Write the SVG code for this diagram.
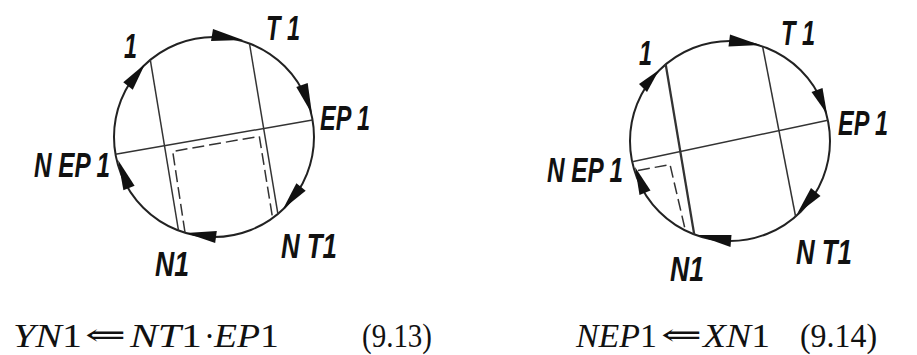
<svg xmlns="http://www.w3.org/2000/svg" width="917" height="355" viewBox="0 0 917 355">
<style>
.circ{fill:none;stroke:#222;stroke-width:2}
.ln{fill:none;stroke:#333;stroke-width:1.5}
.bold{stroke-width:2.3}
.dash{fill:none;stroke:#333;stroke-width:1.5;stroke-dasharray:12 5}
.arr{fill:#111;stroke:none}
.lbl{font-family:"Liberation Sans",Arial,sans-serif;font-style:italic;font-weight:bold;font-size:35px;fill:#111}
.eq{font-family:"Liberation Serif","Times New Roman",serif;font-size:33px;fill:#111}
.ar{font-family:"DejaVu Serif","Liberation Serif",serif;font-size:30px;fill:#111}
.it{font-style:italic}
</style>
<rect width="917" height="355" fill="#fff"/>

<g id="diagram-913">
  <circle id="circle-left" class="circ" cx="214" cy="137" r="100"/>
  <g id="connectors-left">
    <line class="ln" x1="150.3" y1="59.9" x2="178.5" y2="230.5"/>
    <line class="ln" x1="249.5" y1="43.5" x2="277.9" y2="213.9"/>
    <line class="ln" x1="312.5" y1="120" x2="115.5" y2="154.2"/>
    <polyline class="dash" points="185,232.5 172.7,151.4 259.3,136.3 272.5,217.5"/>
    <polygon class="arr" points="243,40 213,29 211,41"/>
    <polygon class="arr" points="312,114 307.7,83 296.3,87"/>
    <polygon class="arr" points="283,209 305.7,190.8 296.4,183.2"/>
    <polygon class="arr" points="186,233 215.2,242.9 216.8,231.1"/>
    <polygon class="arr" points="118,160 134.6,185.8 123.4,190.2"/>
    <polygon class="arr" points="145,64 132.75,89.67 123.25,82.33"/>
  </g>
  <g id="node-1-left"><text class="lbl" x="124" y="58" textLength="13" lengthAdjust="spacingAndGlyphs">1</text></g>
  <g id="node-T1-left"><text class="lbl" x="266" y="40" textLength="34" lengthAdjust="spacingAndGlyphs">T 1</text></g>
  <g id="node-EP1-left"><text class="lbl" x="320" y="130" textLength="50" lengthAdjust="spacingAndGlyphs">EP 1</text></g>
  <g id="node-NEP1-left"><text class="lbl" x="34" y="177" textLength="76" lengthAdjust="spacingAndGlyphs">N EP 1</text></g>
  <g id="node-N1-left"><text class="lbl" x="155" y="276" textLength="34" lengthAdjust="spacingAndGlyphs">N1</text></g>
  <g id="node-NT1-left"><text class="lbl" x="281" y="258" textLength="56" lengthAdjust="spacingAndGlyphs">N T1</text></g>
</g>

<g id="diagram-914">
  <circle id="circle-right" class="circ" cx="730" cy="141" r="100"/>
  <g id="connectors-right">
    <line class="ln bold" x1="665.7" y1="64.4" x2="694.2" y2="234.4"/>
    <line class="ln" x1="762.6" y1="46.5" x2="795.6" y2="216.5"/>
    <line class="ln" x1="827.8" y1="120.2" x2="632.2" y2="161.8"/>
    <polyline class="dash" points="638,170.5 670,164.5 685.5,231"/>
    <polygon class="arr" points="760,45 730,34.5 728.5,46.5"/>
    <polygon class="arr" points="827,114 822.5,88 811.5,92"/>
    <polygon class="arr" points="797,214 820.5,196 811,188"/>
    <polygon class="arr" points="697,235 730.5,247 731.5,235"/>
    <polygon class="arr" points="635,167 650.5,190.5 639.5,195"/>
    <polygon class="arr" points="659,70 647,92 639,84"/>
  </g>
  <g id="node-1-right"><text class="lbl" x="639" y="65" textLength="13" lengthAdjust="spacingAndGlyphs">1</text></g>
  <g id="node-T1-right"><text class="lbl" x="781" y="45" textLength="34" lengthAdjust="spacingAndGlyphs">T 1</text></g>
  <g id="node-EP1-right"><text class="lbl" x="838" y="135" textLength="50" lengthAdjust="spacingAndGlyphs">EP 1</text></g>
  <g id="node-NEP1-right"><text class="lbl" x="547" y="182" textLength="76" lengthAdjust="spacingAndGlyphs">N EP 1</text></g>
  <g id="node-N1-right"><text class="lbl" x="670" y="281" textLength="34" lengthAdjust="spacingAndGlyphs">N1</text></g>
  <g id="node-NT1-right"><text class="lbl" x="796" y="264" textLength="56" lengthAdjust="spacingAndGlyphs">N T1</text></g>
</g>

<g id="equations">
  <text class="eq" x="13" y="347" textLength="69" lengthAdjust="spacingAndGlyphs"><tspan class="it">YN</tspan>1</text>
  <text class="ar" x="85" y="345" textLength="41" lengthAdjust="spacingAndGlyphs">⇐</text>
  <text class="eq" x="130" y="347" textLength="72" lengthAdjust="spacingAndGlyphs"><tspan class="it">NT</tspan>1</text>
  <text class="eq" x="204" y="347">·</text>
  <text class="eq" x="214" y="347" textLength="65" lengthAdjust="spacingAndGlyphs"><tspan class="it">EP</tspan>1</text>
  <text class="eq" x="362" y="347" textLength="70" lengthAdjust="spacingAndGlyphs">(9.13)</text>
  <text class="eq" x="576" y="347" textLength="81" lengthAdjust="spacingAndGlyphs"><tspan class="it">NEP</tspan>1</text>
  <text class="ar" x="661" y="345" textLength="41" lengthAdjust="spacingAndGlyphs">⇐</text>
  <text class="eq" x="703" y="347" textLength="67" lengthAdjust="spacingAndGlyphs"><tspan class="it">XN</tspan>1</text>
  <text class="eq" x="800" y="347" textLength="77" lengthAdjust="spacingAndGlyphs">(9.14)</text>
</g>
</svg>
